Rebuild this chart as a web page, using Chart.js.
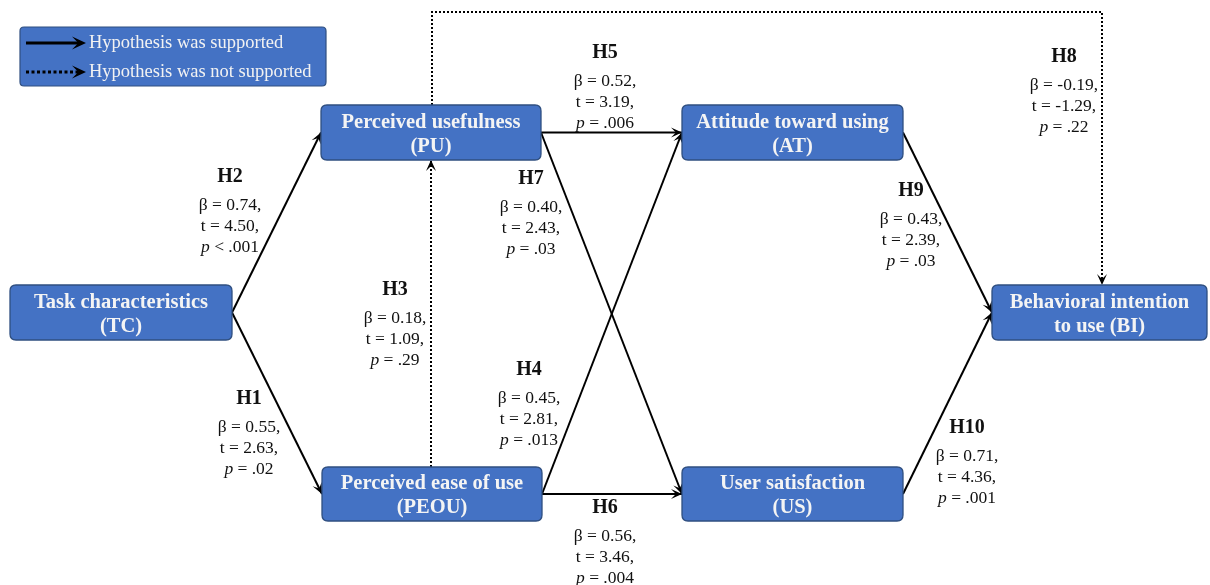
<!DOCTYPE html>
<html>
<head>
<meta charset="utf-8">
<script src="https://cdn.jsdelivr.net/npm/chart.js@4.4.1/dist/chart.umd.min.js"></script>
<style>
html,body{margin:0;padding:0;background:#fff;}
#wrap{width:1210px;height:585px;}
</style>
</head>
<body>
<div id="wrap"><canvas id="c" width="1210" height="585"></canvas></div>
<script>
// ---------- DATA ----------
const nodeIds   = ['TC', 'PU', 'PEOU', 'AT', 'US', 'BI'];
const nodeLine1 = ['Task characteristics', 'Perceived usefulness', 'Perceived ease of use', 'Attitude toward using', 'User satisfaction', 'Behavioral intention'];
const nodeLine2 = ['(TC)', '(PU)', '(PEOU)', '(AT)', '(US)', 'to use (BI)'];

const hypIds    = ['H1', 'H2', 'H3', 'H4', 'H5', 'H6', 'H7', 'H8', 'H9', 'H10'];
const hypFrom   = ['TC', 'TC', 'PEOU', 'PEOU', 'PU', 'PEOU', 'PU', 'PU', 'AT', 'US'];
const hypTo     = ['PEOU', 'PU', 'PU', 'AT', 'AT', 'US', 'US', 'BI', 'BI', 'BI'];
const betas     = [0.55, 0.74, 0.18, 0.45, 0.52, 0.56, 0.40, -0.19, 0.43, 0.71];
const tValues   = [2.63, 4.50, 1.09, 2.81, 3.19, 3.46, 2.43, -1.29, 2.39, 4.36];
const pLabels   = ['= .02', '< .001', '= .29', '= .013', '= .006', '= .004', '= .03', '= .22', '= .03', '= .001'];
const supported = [true, true, false, true, true, true, true, false, true, true];

const legendLabels = ['Hypothesis was supported', 'Hypothesis was not supported'];

// ---------- LAYOUT (diagram coordinates, not data) ----------
const boxes = {
  TC:   [10, 285, 232, 340],
  PU:   [321, 105, 541, 160],
  PEOU: [322, 467, 542, 521],
  AT:   [682, 105, 903, 160],
  US:   [682, 467, 903, 521],
  BI:   [992, 285, 1207, 340]
};
function cy(id){ const b = boxes[id]; return (b[1] + b[3]) / 2; }
function routeFor(i){
  const f = hypFrom[i], t = hypTo[i];
  const bf = boxes[f], bt = boxes[t];
  if (hypIds[i] === 'H3') return [[431, bf[1]], [431, bt[3]]];
  if (hypIds[i] === 'H8') return [[432, bf[1]], [432, 12], [1102, 12], [1102, bt[1]]];
  return [[bf[2], cy(f)], [bt[0], cy(t)]];
}
const labelPos = {
  H1: [249, 399], H2: [230, 177], H3: [395, 290], H4: [529, 370], H5: [605, 53],
  H6: [605, 508], H7: [531, 179], H8: [1064, 57], H9: [911, 191], H10: [967, 428]
};
const legendBox = [20, 27, 326, 86];

// ---------- DATASETS ----------
const datasets = hypIds.map((h, i) => ({
  label: h,
  data: routeFor(i).map(p => ({x: p[0], y: p[1]})),
  showLine: true,
  borderColor: '#000',
  borderWidth: 2,
  borderDash: supported[i] ? [] : [2, 2],
  pointRadius: 0,
  fill: false,
  tension: 0
}));
// legend sample arrows
legendLabels.forEach((l, i) => {
  datasets.push({
    label: 'legend' + i,
    data: [{x: 26, y: 43 + i * 29}, {x: 80, y: 43 + i * 29}],
    showLine: true,
    borderColor: '#000',
    borderWidth: 3,
    borderDash: i === 0 ? [] : [3, 2.5],
    pointRadius: 0,
    fill: false
  });
});

const SERIF = '"Liberation Serif", "Times New Roman", serif';

function roundRect(ctx, x, y, w, h, r){
  ctx.beginPath();
  ctx.moveTo(x + r, y);
  ctx.lineTo(x + w - r, y);
  ctx.quadraticCurveTo(x + w, y, x + w, y + r);
  ctx.lineTo(x + w, y + h - r);
  ctx.quadraticCurveTo(x + w, y + h, x + w - r, y + h);
  ctx.lineTo(x + r, y + h);
  ctx.quadraticCurveTo(x, y + h, x, y + h - r);
  ctx.lineTo(x, y + r);
  ctx.quadraticCurveTo(x, y, x + r, y);
  ctx.closePath();
}

const diagramPlugin = {
  id: 'diagram',
  beforeDatasetsDraw(chart){
    const ctx = chart.ctx, X = chart.scales.x, Y = chart.scales.y;
    const x0 = X.getPixelForValue(legendBox[0]), y0 = Y.getPixelForValue(legendBox[1]);
    const x1 = X.getPixelForValue(legendBox[2]), y1 = Y.getPixelForValue(legendBox[3]);
    ctx.save();
    roundRect(ctx, x0, y0, x1 - x0, y1 - y0, 4);
    ctx.fillStyle = '#4472C4';
    ctx.fill();
    ctx.strokeStyle = '#2F4F80';
    ctx.lineWidth = 1.2;
    ctx.stroke();
    ctx.fillStyle = '#F2F2F2';
    ctx.font = '18.5px ' + SERIF;
    ctx.textAlign = 'left';
    ctx.textBaseline = 'middle';
    legendLabels.forEach((l, i) => {
      ctx.fillText(l, X.getPixelForValue(89), Y.getPixelForValue(43 + i * 29));
    });
    ctx.restore();
  },
  afterDatasetsDraw(chart){
    const ctx = chart.ctx, X = chart.scales.x, Y = chart.scales.y;
    ctx.save();
    // arrowheads
    chart.data.datasets.forEach((ds, di) => {
      const pts = chart.getDatasetMeta(di).data;
      const a = pts[pts.length - 2], b = pts[pts.length - 1];
      const ang = Math.atan2(b.y - a.y, b.x - a.x);
      const isLegend = ds.label.startsWith('legend');
      const L = isLegend ? 14 : 11, W = isLegend ? 6.5 : 5;
      const tipX = isLegend ? b.x + 6 : b.x, tipY = b.y;
      ctx.beginPath();
      ctx.moveTo(tipX, tipY);
      ctx.lineTo(tipX - L * Math.cos(ang) + W * Math.sin(ang), tipY - L * Math.sin(ang) - W * Math.cos(ang));
      ctx.lineTo(tipX - (L * 0.55) * Math.cos(ang), tipY - (L * 0.55) * Math.sin(ang));
      ctx.lineTo(tipX - L * Math.cos(ang) - W * Math.sin(ang), tipY - L * Math.sin(ang) + W * Math.cos(ang));
      ctx.closePath();
      ctx.fillStyle = '#000';
      ctx.fill();
    });
    // boxes
    nodeIds.forEach((id, i) => {
      const b = boxes[id];
      const x0 = X.getPixelForValue(b[0]), y0 = Y.getPixelForValue(b[1]);
      const x1 = X.getPixelForValue(b[2]), y1 = Y.getPixelForValue(b[3]);
      roundRect(ctx, x0, y0, x1 - x0, y1 - y0, 6);
      ctx.fillStyle = '#4472C4';
      ctx.fill();
      ctx.strokeStyle = '#2F4F80';
      ctx.lineWidth = 1.3;
      ctx.stroke();
      ctx.fillStyle = '#F4F4F4';
      ctx.font = 'bold 20.5px ' + SERIF;
      ctx.textAlign = 'center';
      ctx.textBaseline = 'middle';
      const cx = (x0 + x1) / 2, my = (y0 + y1) / 2;
      ctx.fillText(nodeLine1[i], cx, my - 10);
      ctx.fillText(nodeLine2[i], cx, my + 14);
    });
    // hypothesis labels
    hypIds.forEach((h, i) => {
      const p = labelPos[h];
      const cx = X.getPixelForValue(p[0]), ty = Y.getPixelForValue(p[1]);
      ctx.fillStyle = '#111';
      ctx.textBaseline = 'middle';
      ctx.textAlign = 'center';
      ctx.font = 'bold 20px ' + SERIF;
      ctx.fillText(h, cx, ty);
      ctx.font = '17.5px ' + SERIF;
      ctx.fillText('\u03B2 = ' + betas[i].toFixed(2) + ',', cx, ty + 28);
      ctx.fillText('t = ' + tValues[i].toFixed(2) + ',', cx, ty + 49);
      // p line: italic p + normal rest
      ctx.font = 'italic 17.5px ' + SERIF;
      const pw = ctx.measureText('p').width;
      ctx.font = '17.5px ' + SERIF;
      const rest = ' ' + pLabels[i];
      const rw = ctx.measureText(rest).width;
      const start = cx - (pw + rw) / 2;
      ctx.textAlign = 'left';
      ctx.font = 'italic 17.5px ' + SERIF;
      ctx.fillText('p', start, ty + 70);
      ctx.font = '17.5px ' + SERIF;
      ctx.fillText(rest, start + pw, ty + 70);
    });
    ctx.restore();
  }
};

new Chart(document.getElementById('c'), {
  type: 'scatter',
  data: { datasets },
  options: {
    responsive: false,
    animation: false,
    layout: { padding: 0 },
    plugins: { legend: { display: false }, tooltip: { enabled: false }, title: { display: false } },
    scales: {
      x: { type: 'linear', min: 0, max: 1210, display: false },
      y: { type: 'linear', min: 0, max: 585, reverse: true, display: false }
    },
    elements: { line: { borderCapStyle: 'butt' } }
  },
  plugins: [diagramPlugin]
});
</script>
</body>
</html>
